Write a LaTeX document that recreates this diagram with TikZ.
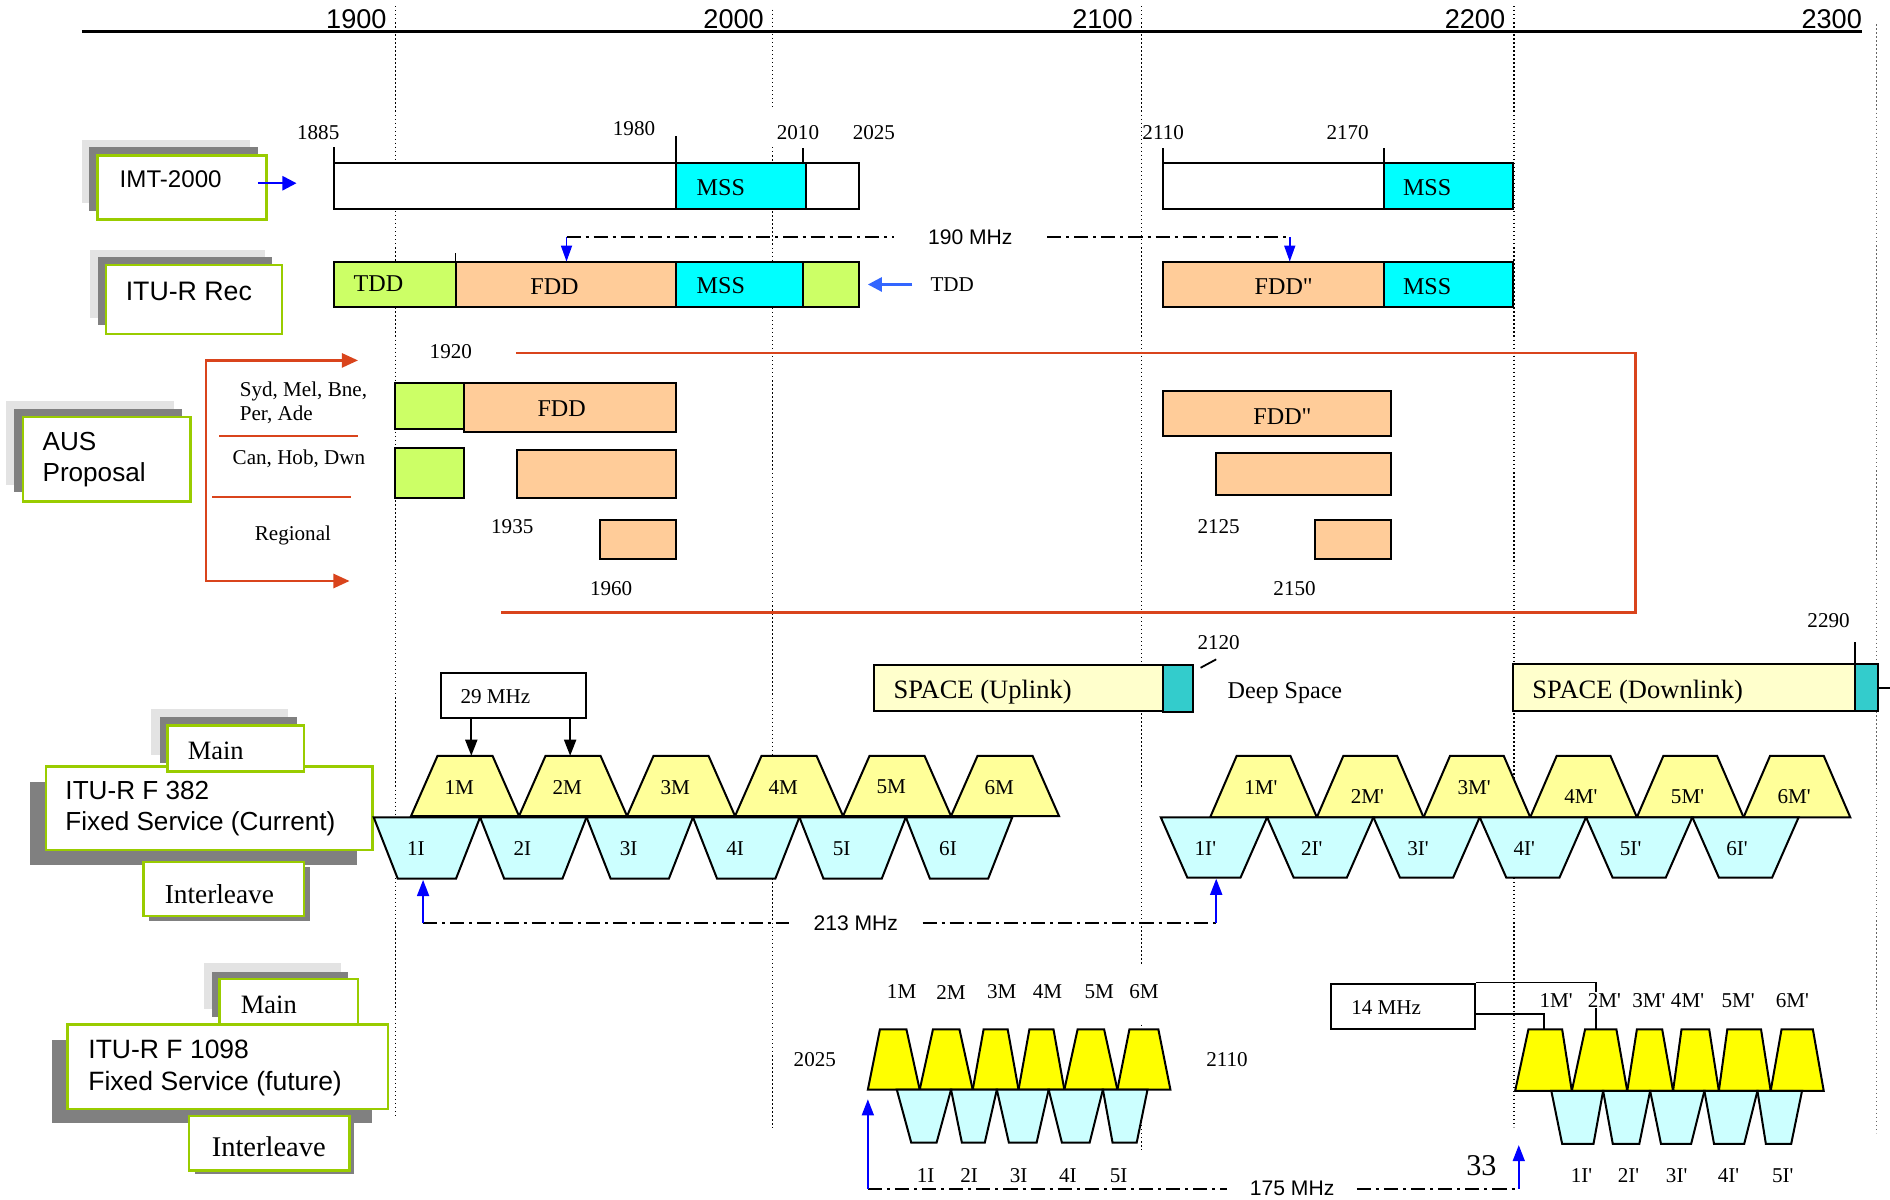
\documentclass[tikz,border=0pt]{standalone}
\usepackage{fontspec}
\setmainfont{Liberation Serif}[Ligatures=TeXOff]
\setsansfont{Liberation Sans}
\usepackage{tikz}
\usetikzlibrary{arrows.meta}
\definecolor{MSSCyan}{HTML}{00FFFF}
\definecolor{TDDGreen}{HTML}{CCFF66}
\definecolor{FDDOrange}{HTML}{FFCC99}
\definecolor{PaleYellow}{HTML}{FFFF99}
\definecolor{PaleCyan}{HTML}{CCFFFF}
\definecolor{BrightYellow}{HTML}{FFFF00}
\definecolor{SpaceYellow}{HTML}{FFFFCC}
\definecolor{DeepCyan}{HTML}{33CCCC}
\definecolor{TagGreen}{HTML}{99CC00}
\definecolor{ShadeLight}{HTML}{E3E3E3}
\definecolor{ShadeDark}{HTML}{808080}
\definecolor{FrameRed}{HTML}{D9441C}
\definecolor{ArrowBlue}{HTML}{0000FF}
\definecolor{SoftBlue}{HTML}{3366FF}

\begin{document}
\begin{tikzpicture}[x=0.6pt,y=-0.6pt,
  bar/.style={draw=black,line width=1pt},
  tagbox/.style={draw=TagGreen,fill=white,line width=1.2pt},
  shadelite/.style={fill=ShadeLight},
  shadedark/.style={fill=ShadeDark},
  tagtext/.style={font=\sffamily\fontsize{13}{15.5}\selectfont,anchor=west,align=left,inner sep=0pt},
  axistext/.style={font=\sffamily\fontsize{13.5}{15}\selectfont,inner sep=0pt,anchor=base east},
  numtext/.style={font=\fontsize{10.5}{12.5}\selectfont,inner sep=1pt},
  bandtext/.style={font=\fontsize{12}{14}\selectfont,inner sep=0pt},
  bigtext/.style={font=\fontsize{13.2}{15}\selectfont,inner sep=0pt},
  sanstext/.style={font=\sffamily\fontsize{10.5}{12}\selectfont},
  guide/.style={line width=0.6pt,dash pattern=on 0.7pt off 1.3pt},
  dashdot/.style={line width=1pt,dash pattern=on 7pt off 2.5pt on 1.5pt off 2.5pt},
  mainT/.style={draw=black,fill=PaleYellow,line width=1pt},
  intT/.style={draw=black,fill=PaleCyan,line width=1pt},
  boldT/.style={draw=black,fill=BrightYellow,line width=1pt},
  mhzbox/.style={draw=black,line width=1pt,minimum width=72pt,minimum height=22.8pt},
  blueup/.style={-{Triangle[length=8pt,width=6pt]},draw=ArrowBlue,line width=0.8pt},
  bluedown/.style={-{Triangle[length=8pt,width=5.5pt]},draw=ArrowBlue,line width=0.8pt},
  redframe/.style={draw=FrameRed,line width=1.2pt}
]
\useasboundingbox (0,0) rectangle (1568,995);

% frequency guides
\draw[guide] (328,5) -- (328,928);
\draw[guide] (641,8) -- (641,90) (641,122) -- (641,936);
\draw[guide] (947,5) -- (947,800) (947,850) -- (947,954);
\draw[guide] (1256,5) -- (1256,935);
\draw[guide,black!60] (1557,20) -- (1557,940);
\draw[line width=1.2pt] (68,26) -- (1545,26);
\foreach \v/\px in {1900/328,2000/641,2100/947,2200/1256,2300/1552}
  \node[axistext] (ax\v) at (\px-7,24) {\v};

% IMT-2000
\fill[shadelite] (68,116) rectangle (207,168);
\fill[shadedark] (74,122) rectangle (214,175);
\filldraw[tagbox] (81,129) rectangle (221,182);
\node[tagtext,font=\sffamily\fontsize{12}{14}\selectfont] (imt) at (99,149) {IMT-2000};
\filldraw[bar,fill=white] (277,135) rectangle (713,173);
\filldraw[bar,fill=MSSCyan] (561,135) rectangle (669,173);
\filldraw[bar,fill=white] (965,135) rectangle (1255,173);
\filldraw[bar,fill=MSSCyan] (1148,135) rectangle (1255,173);
\draw[line width=0.8pt] (277,122) -- (277,135) (561,113) -- (561,135) (666,123) -- (666,135)
  (965,123) -- (965,135) (1148,123) -- (1148,135);
\node[numtext] (f1885) at (264,110) {1885};
\node[numtext] (f1980) at (526,107) {1980};
\node[numtext] (f2010) at (662,110) {2010};
\node[numtext] (f2025) at (725,110) {2025};
\node[numtext] (f2110) at (965,110) {2110};
\node[numtext] (f2170) at (1118,110) {2170};
\node[bandtext] (imtmssA) at (598,156) {MSS};
\node[bandtext] (imtmssB) at (1184,156) {MSS};
\coordinate (imtA) at (214,152);
\coordinate (imtB) at (246,152);
\draw[-{Triangle[length=7pt,width=7pt]},ArrowBlue,line width=1.2pt] (imtA) -- (imtB);

% ITU-R Rec
\fill[shadelite] (75,207) rectangle (220,264);
\fill[shadedark] (81,213) rectangle (226,270);
\filldraw[tagbox] (88,220) rectangle (234,277);
\node[tagtext,font=\sffamily\fontsize{13.3}{15}\selectfont] (itur) at (104,242) {ITU-R Rec};
\filldraw[bar,fill=TDDGreen] (277,217) rectangle (378,255);
\filldraw[bar,fill=FDDOrange] (378,217) rectangle (561,255);
\filldraw[bar,fill=MSSCyan] (561,217) rectangle (666,255);
\filldraw[bar,fill=TDDGreen] (666,217) rectangle (713,255);
\draw[line width=0.8pt] (378,210) -- (378,217);
\filldraw[bar,fill=FDDOrange] (965,217) rectangle (1148,255);
\filldraw[bar,fill=MSSCyan] (1148,217) rectangle (1255,255);
\node[bandtext] (rectdd) at (314,235) {TDD};
\node[bandtext] (recfdd) at (460,238) {FDD};
\node[bandtext] (recmss) at (598,237) {MSS};
\node[bandtext] (recfddb) at (1065,238) {FDD"};
\node[bandtext] (recmssb) at (1184,238) {MSS};
\node[numtext] (tddnote) at (790,236) {TDD};
\coordinate (tddA) at (757,236);
\coordinate (tddB) at (720,236);
\draw[-{Triangle[length=7pt,width=7pt]},SoftBlue,line width=1.4pt] (tddA) -- (tddB);
\node[sanstext,inner xsep=17pt] (mhz190) at (805,197) {190 MHz};
\coordinate (d190L) at (470,197);
\coordinate (d190R) at (1070,197);
\coordinate (fddtopA) at (470,217);
\coordinate (fddtopB) at (1070,217);
\draw[dashdot] (d190L) -- (mhz190) -- (d190R);
\draw[bluedown] (d190L) -- (fddtopA);
\draw[bluedown] (d190R) -- (fddtopB);

% AUS proposal
\fill[shadelite] (5,333) rectangle (144,402);
\fill[shadedark] (12,339) rectangle (151,408);
\filldraw[tagbox] (19,346) rectangle (158,416);
\node[tagtext] (aus) at (35,381) {AUS\\Proposal};
\coordinate (brA) at (297,299);
\coordinate (brB) at (171,299);
\coordinate (brC) at (171,482);
\coordinate (brD) at (290,482);
\draw[redframe,{Triangle[length=8pt,width=7pt]}-{Triangle[length=8pt,width=7pt]}] (brA) -- (brB) -- (brC) -- (brD);
\node[numtext,align=left,anchor=west,font=\fontsize{10.5}{12}\selectfont] (cities) at (197,334) {Syd, Mel, Bne,\\Per, Ade};
\node[numtext] (capital) at (248,381) {Can, Hob, Dwn};
\node[numtext] (regional) at (243,444) {Regional};
\draw[redframe,line width=1pt] (182,362) -- (297,362) (176,412) -- (291,412);
\coordinate (frA) at (428,293);
\coordinate (frB) at (1357,293);
\coordinate (frC) at (1357,508);
\coordinate (frD) at (416,508);
\draw[redframe] (frA) -- (frB) -- (frC) -- (frD);
\filldraw[bar,fill=TDDGreen] (328,318) rectangle (385,356);
\filldraw[bar,fill=FDDOrange] (385,318) rectangle (561,358);
\filldraw[bar,fill=TDDGreen] (328,372) rectangle (385,413);
\filldraw[bar,fill=FDDOrange] (429,373) rectangle (561,413);
\filldraw[bar,fill=FDDOrange] (498,431) rectangle (561,464);
\filldraw[bar,fill=FDDOrange] (965,324) rectangle (1154,362);
\filldraw[bar,fill=FDDOrange] (1009,376) rectangle (1154,411);
\filldraw[bar,fill=FDDOrange] (1091,431) rectangle (1154,464);
\node[bandtext] (ausfdd) at (466,339) {FDD};
\node[bandtext] (ausfddb) at (1064,346) {FDD"};
\node[numtext] (f1920) at (374,292) {1920};
\node[numtext] (f1935) at (425,437) {1935};
\node[numtext] (f1960) at (507,488) {1960};
\node[numtext] (f2125) at (1011,437) {2125};
\node[numtext] (f2150) at (1074,488) {2150};

% space bands
\filldraw[bar,fill=SpaceYellow] (725,552) rectangle (965,590);
\filldraw[bar,fill=DeepCyan] (965,552) rectangle (990,591);
\node[bigtext,anchor=west] (upl) at (741,574) {SPACE (Uplink)};
\node[numtext] (f2120) at (1011,533) {2120};
\coordinate (dsA) at (996,554);
\coordinate (dsB) at (1009,547);
\draw[line width=0.9pt] (dsA) -- (dsB);
\node[numtext,font=\fontsize{12}{14}\selectfont] (deep) at (1066,575) {Deep Space};
\filldraw[bar,fill=SpaceYellow] (1255,551) rectangle (1539,590);
\filldraw[bar,fill=DeepCyan] (1539,551) rectangle (1558,590);
\draw[line width=0.9pt] (1539,533) -- (1539,551) (1558,571) -- (1568,571);
\node[numtext] (f2290) at (1517,515) {2290};
\node[bigtext,anchor=west] (dnl) at (1271,574) {SPACE (Downlink)};

% ITU-R F 382
\fill[shadedark] (25,649) rectangle (296,718);
\filldraw[tagbox] (38,636) rectangle (309,705);
\node[tagtext] (f382) at (54,671) {ITU-R F 382\\Fixed Service (Current)};
\fill[shadelite] (125,588) rectangle (239,626);
\fill[shadedark] (133,595) rectangle (246,633);
\filldraw[tagbox] (139,602) rectangle (252,640);
\node[bigtext] (mainA) at (179,623) {Main};
\fill[shadedark] (124,719) rectangle (257,764);
\filldraw[tagbox] (119,715) rectangle (252,760);
\node[bigtext,font=\fontsize{13.6}{15}\selectfont] (intA) at (182,742) {Interleave};

\foreach \k [count=\n] in {0,...,5} {
  \pgfmathsetmacro\bl{341+89.6*\k}
  \filldraw[mainT] (\bl,677) -- (\bl+22,627) -- (\bl+67.6,627) -- (\bl+89.6,677) -- cycle;
  \node[numtext] (fm\n) at (\bl+40,653) {\n M};
}
\foreach \k [count=\n] in {0,...,5} {
  \pgfmathsetmacro\tl{310+88.3*\k}
  \filldraw[intT] (\tl,678) -- (\tl+88.3,678) -- (\tl+68.3,729) -- (\tl+20,729) -- cycle;
  \node[numtext] (fi\n) at (\tl+35,704) {\n I};
}
\foreach \k/\ly [count=\n] in {0/653,1/661,2/653,3/661,4/661,5/661} {
  \pgfmathsetmacro\bl{1004+88.5*\k}
  \filldraw[mainT] (\bl,678) -- (\bl+22,627) -- (\bl+66.5,627) -- (\bl+88.5,678) -- cycle;
  \node[numtext] (fpm\n) at (\bl+42,\ly) {\n M'};
}
\foreach \k [count=\n] in {0,...,5} {
  \pgfmathsetmacro\tl{963+88.2*\k}
  \filldraw[intT] (\tl,678) -- (\tl+88.2,678) -- (\tl+66.2,728) -- (\tl+22,728) -- cycle;
  \node[numtext] (fpi\n) at (\tl+37,704) {\n I'};
}

\node[mhzbox] (mhz29) at (426,577) {};
\node[numtext] (t29) at (411,578) {29 MHz};
\coordinate (t29a) at (391,627);
\coordinate (t29b) at (473,627);
\draw[-{Triangle[length=8pt,width=6pt]},line width=0.9pt] (mhz29.south -| t29a) -- (t29a);
\draw[-{Triangle[length=8pt,width=6pt]},line width=0.9pt] (mhz29.south -| t29b) -- (t29b);

\node[sanstext,inner xsep=12pt] (mhz213) at (710,766) {213 MHz};
\coordinate (d213L) at (351,766);
\coordinate (d213R) at (1009,766);
\coordinate (i1bot) at (351,730);
\coordinate (pi1bot) at (1009,729);
\draw[dashdot] (d213L) -- (mhz213) -- (d213R);
\draw[blueup] (d213L) -- (i1bot);
\draw[blueup] (d213R) -- (pi1bot);

% ITU-R F 1098
\fill[shadedark] (43,863) rectangle (309,932);
\filldraw[tagbox] (56,850) rectangle (322,920);
\node[tagtext,font=\sffamily\fontsize{13.2}{15.5}\selectfont] (f1098) at (73,886) {ITU-R F 1098\\Fixed Service (future)};
\fill[shadelite] (169,799) rectangle (283,837);
\fill[shadedark] (176,806) rectangle (289,844);
\filldraw[tagbox] (182,812) rectangle (297,850);
\node[bigtext] (mainB) at (223,834) {Main};
\fill[shadedark] (162,929) rectangle (294,974);
\filldraw[tagbox] (157,926) rectangle (290,971);
\node[bigtext,font=\fontsize{14.2}{16}\selectfont] (intB) at (223,951) {Interleave};

\foreach \a/\b/\c/\d [count=\n] in {720/763/730/752,763/807/774/796,807/845/816/836,845/883/854/874,883/927/894/916,927/971/937/961}
  \filldraw[boldT] (\a,904) -- (\c,854) -- (\d,854) -- (\b,904) -- cycle;
\foreach \a/\b/\c/\d [count=\n] in {744/789/756/777,789/827/798/817,827/870/837/860,870/915/881/904,915/952/923/943}
  \filldraw[intT] (\a,904) -- (\b,904) -- (\d,948) -- (\c,948) -- cycle;
\foreach \x [count=\n] in {748,789,831,869,912,949}
  \node[numtext] (bm\n) at (\x,823) {\n M};
\foreach \x [count=\n] in {768,804,845,886,928}
  \node[numtext] (bi\n) at (\x,975) {\n I};
\node[numtext] (f2025b) at (676,879) {2025};
\node[numtext] (f2110b) at (1018,879) {2110};

\node[mhzbox] (mhz14) at (1164,835) {};
\node[numtext] (t14) at (1150,836) {14 MHz};
\coordinate (t14a) at (1281,854);
\coordinate (t14b) at (1324,855);
\coordinate (k14) at (1224,841);
\draw[line width=0.9pt] (mhz14.north east) -| (t14b);
\draw[line width=0.9pt] (k14) -| (t14a);
\foreach \a/\b/\c/\d [count=\n] in {1257/1304/1268/1296,1304/1350/1315/1341,1350/1388/1358/1379,1388/1426/1395/1418,1426/1469/1433/1461,1469/1513/1478/1504}
  \filldraw[boldT] (\a,905) -- (\c,854) -- (\d,854) -- (\b,905) -- cycle;
\foreach \a/\b/\c/\d [count=\n] in {1287/1330/1296/1322,1330/1369/1338/1360,1369/1414/1378/1403,1414/1458/1422/1447,1458/1495/1465/1486}
  \filldraw[intT] (\a,905) -- (\b,905) -- (\d,949) -- (\c,949) -- cycle;
\foreach \x [count=\n] in {1291,1331,1368,1400,1442,1487}
  \node[numtext,fill=white,inner sep=0.5pt] (bpm\n) at (\x,830) {\n M'};
\foreach \x [count=\n] in {1312,1351,1391,1434,1479}
  \node[numtext] (bpi\n) at (\x,975) {\n I'};

\node[sanstext,inner xsep=11pt] (mhz175) at (1072,986) {175 MHz};
\coordinate (d175L) at (720,986);
\coordinate (d175R) at (1260,986);
\coordinate (b1top) at (720,912);
\coordinate (bp1top) at (1260,950);
\draw[dashdot] (d175L) -- (mhz175) -- (d175R);
\draw[blueup] (d175L) -- (b1top);
\draw[blueup] (d175R) -- (bp1top);
\node[numtext,font=\fontsize{15}{17}\selectfont] (tag33) at (1229,967) {33};
\end{tikzpicture}
\end{document}
